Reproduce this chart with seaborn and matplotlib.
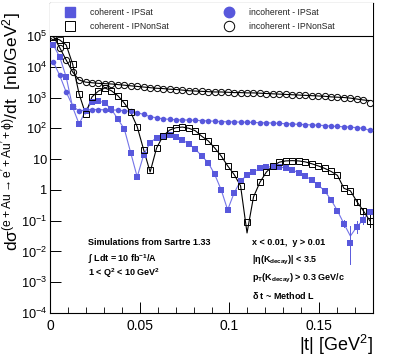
import numpy as np
import pandas as pd
import seaborn as sns
import matplotlib.pyplot as plt
from matplotlib.lines import Line2D
from matplotlib.ticker import FixedLocator, LogLocator, MultipleLocator, NullFormatter

# 50 bins in |t| from 0 to 0.18 GeV^2
n_bins = 50
bin_width = 0.0036
t = (np.arange(n_bins) + 0.5) * bin_width

# values, as log10(dsigma/dt [nb/GeV^2])
coh_sat = [4.71, 4.32, 3.67, 2.69, 2.14, 2.56, 2.86, 2.89, 2.82, 2.62,
           2.30, 1.98, 1.20, 0.42, 1.14, 1.53, 1.70, 1.75, 1.77, 1.72,
           1.62, 1.49, 1.32, 1.10, 0.88, 0.50, 0.00, -0.65, -0.10, 0.29,
           0.48, 0.58, 0.70, 0.74, 0.75, 0.74, 0.71, 0.65, 0.55, 0.45,
           0.32, 0.16, -0.03, -0.32, -0.68, -1.10, -1.72, -1.20, -0.97, -0.71]
coh_nonsat = [4.95, 4.87, 4.71, 4.09, 3.12, 2.47, 3.02, 3.21, 3.31, 3.22,
              3.06, 2.82, 2.52, 2.05, 1.30, 0.66, 1.36, 1.75, 1.94, 2.02,
              2.04, 2.00, 1.92, 1.74, 1.59, 1.36, 1.10, 0.78, 0.50, 0.13,
              -1.06, -0.23, 0.25, 0.58, 0.78, 0.90, 0.94, 0.95, 0.94, 0.91,
              0.85, 0.78, 0.70, 0.60, 0.47, 0.05, -0.03, -0.38, -0.68, -1.00]
inc_sat = [4.16, 3.72, 3.18, 2.73, 2.56, 2.60, 2.61, 2.61, 2.60, 2.60,
           2.59, 2.57, 2.55, 2.51, 2.45, 2.38, 2.34, 2.31, 2.29, 2.28,
           2.27, 2.27, 2.26, 2.25, 2.24, 2.23, 2.22, 2.21, 2.21, 2.20,
           2.20, 2.19, 2.18, 2.18, 2.17, 2.16, 2.15, 2.14, 2.13, 2.12,
           2.11, 2.10, 2.09, 2.07, 2.06, 2.05, 2.04, 2.02, 2.00, 1.93]
inc_nonsat = [5.00, 4.62, 4.22, 3.83, 3.57, 3.50, 3.48, 3.46, 3.45, 3.44,
              3.42, 3.40, 3.38, 3.36, 3.34, 3.32, 3.30, 3.29, 3.27, 3.26,
              3.24, 3.22, 3.21, 3.20, 3.19, 3.18, 3.18, 3.17, 3.16, 3.16,
              3.15, 3.15, 3.14, 3.13, 3.12, 3.11, 3.10, 3.09, 3.08, 3.07,
              3.06, 3.05, 3.04, 3.02, 3.01, 3.00, 2.98, 2.95, 2.92, 2.82]

# theory curves follow the points but dip deeper at the minima
curve_dips_sat = {46: -1.50}
curve_dips_nonsat = {15: 0.58, 30: -1.40}
curve_end_inc_nonsat = {49: 2.90}

# error bars (in decades, down / up) on the last bins
err_sat = {44: (0.08, 0.08), 45: (0.12, 0.12), 46: (0.70, 0.55),
           47: (0.20, 0.20), 48: (0.15, 0.15), 49: (0.10, 0.10)}
err_nonsat = {47: (0.08, 0.08), 48: (0.10, 0.10), 49: (0.20, 0.20)}

legend_labels = ["coherent - IPSat", "coherent - IPNonSat",
                 "incoherent - IPSat", "incoherent - IPNonSat"]

blue = "#5858dc"
blue_line = "#7474e8"

plt.rcParams['font.family'] = ['Liberation Sans', 'DejaVu Sans']
plt.rcParams['mathtext.fontset'] = 'custom'
plt.rcParams['mathtext.rm'] = 'Liberation Sans'
plt.rcParams['mathtext.it'] = 'Liberation Sans:italic'
plt.rcParams['mathtext.bf'] = 'Liberation Sans:bold'
plt.rcParams['mathtext.default'] = 'regular'


def curve(vals, dips):
    v = list(vals)
    for k, d in dips.items():
        v[k] = d
    return 10 ** np.array(v)


fig = plt.figure(figsize=(4.15, 3.57), dpi=100)
ax = fig.add_axes([50 / 415, 1 - 313 / 357, 323 / 415, 310 / 357])

y_top = 10 ** 6.07

lines = pd.DataFrame({
    "t": np.tile(t, 4),
    "y": np.concatenate([curve(coh_sat, curve_dips_sat),
                         curve(coh_nonsat, curve_dips_nonsat),
                         curve(inc_sat, {}),
                         curve(inc_nonsat, curve_end_inc_nonsat)]),
    "series": np.repeat(legend_labels, n_bins),
})
sns.lineplot(data=lines, x="t", y="y", hue="series", estimator=None,
             palette=[blue_line, "black", blue_line, "black"],
             hue_order=legend_labels, linewidth=0.8, legend=False, ax=ax, zorder=2)

# error bars
for errs, vals, col in [(err_sat, coh_sat, blue), (err_nonsat, coh_nonsat, "black")]:
    for k, (lo, hi) in errs.items():
        ax.plot([t[k], t[k]], [10 ** (vals[k] - lo), 10 ** (vals[k] + hi)],
                color=col, lw=0.7, zorder=3)

sns.scatterplot(x=t, y=10 ** np.array(coh_sat), marker="s", s=16, color=blue,
                edgecolor=blue, linewidth=0, ax=ax, zorder=4)
sns.scatterplot(x=t, y=10 ** np.array(inc_sat), marker="o", s=16, color=blue,
                edgecolor=blue, linewidth=0, ax=ax, zorder=4)
ax.plot(t, 10 ** np.array(coh_nonsat), ls="none", marker="s", ms=4,
        mfc="none", mec="black", mew=0.7, zorder=4)
ax.plot(t, 10 ** np.array(inc_nonsat), ls="none", marker="o", ms=4.5,
        mfc="none", mec="black", mew=0.7, zorder=4)

ax.set_yscale("log")
ax.set_xlim(0, 0.18)
ax.set_ylim(1e-4, y_top)

# legend box region on top of the frame
ax.axhspan(1e5, y_top, color="white", zorder=5)
ax.axhline(1e5, color="black", lw=0.8, zorder=6)

handles = [
    Line2D([], [], ls="none", marker="s", ms=7.5, mfc=blue, mec=blue),
    Line2D([], [], ls="none", marker="s", ms=7.5, mfc="none", mec="black", mew=0.7),
    Line2D([], [], ls="none", marker="o", ms=7.5, mfc=blue, mec=blue),
    Line2D([], [], ls="none", marker="o", ms=7.5, mfc="none", mec="black", mew=0.7),
]
leg = ax.legend(handles, legend_labels, ncol=2, loc="center left",
                bbox_to_anchor=(0.022, 0.947), frameon=False, fontsize=6.2,
                handlelength=1.6, handletextpad=1.5, columnspacing=6.2,
                labelspacing=0.6, borderaxespad=0.3)
leg.set_zorder(7)
for txt in leg.get_texts():
    txt.set_color("#222222")

# axes style (ROOT-like)
ax.set_facecolor("white")
for sp in ax.spines.values():
    sp.set_color("black")
    sp.set_linewidth(0.8)
ax.yaxis.set_major_locator(FixedLocator([10.0 ** k for k in range(-4, 6)]))
ax.yaxis.set_minor_locator(LogLocator(base=10, subs=np.arange(2, 10)))
ax.yaxis.set_minor_formatter(NullFormatter())
ytick_labels = {-4: "$10^{-4}$", -3: "$10^{-3}$", -2: "$10^{-2}$", -1: "$10^{-1}$",
                0: "1", 1: "10", 2: "$10^{2}$", 3: "$10^{3}$", 4: "$10^{4}$", 5: "$10^{5}$"}
ax.set_yticklabels([ytick_labels[k] for k in range(-4, 6)])
ax.xaxis.set_major_locator(FixedLocator([0, 0.05, 0.1, 0.15]))
ax.xaxis.set_minor_locator(MultipleLocator(0.01))
ax.set_xticklabels(["0", "0.05", "0.1", "0.15"])
ax.tick_params(axis="both", which="major", direction="in", length=8, width=0.7,
               labelsize=10, top=False, right=False)
ax.tick_params(axis="y", which="major", labelsize=9.2)
ax.tick_params(axis="both", which="minor", direction="in", length=4, width=0.6,
               top=False, right=False)
ax.tick_params(axis="x", pad=4)
ax.tick_params(axis="y", pad=2)
ax.set_xlabel("")
ax.set_ylabel("")

fig.text(11 / 415, 1 - 12 / 357,
         r"d$\sigma^{(e+Au\rightarrow e'+Au'+\phi)}$/dt  [nb/GeV$^{2}$]",
         rotation=90, ha="center", va="top", fontsize=12.5)
fig.text(373 / 415, 1 - 345 / 357, r"|t| [GeV$^{2}$]", ha="right", va="center",
         fontsize=13)

# annotations
left_notes = ["Simulations from Sartre 1.33",
              r"$\int$ Ldt = 10 fb$^{-1}$/A",
              r"1 < Q$^{2}$ < 10 GeV$^{2}$"]
for y, s in zip([0.226, 0.175, 0.128], left_notes):
    ax.text(0.118, y, s, transform=ax.transAxes, fontsize=6.5, fontweight="bold",
            ha="left", va="center", zorder=8)
right_notes = ["x < 0.01,  y > 0.01",
               r"|$\eta$(K$_{decay}$)| < 3.5",
               r"p$_{T}$(K$_{decay}$) > 0.3 GeV/c",
               r"$\delta$ t ~ Method L"]
for y, s in zip([0.226, 0.168, 0.110, 0.055], right_notes):
    ax.text(0.625, y, s, transform=ax.transAxes, fontsize=6.5, fontweight="bold",
            ha="left", va="center", zorder=8)

fig.savefig("out.png", dpi=100)
